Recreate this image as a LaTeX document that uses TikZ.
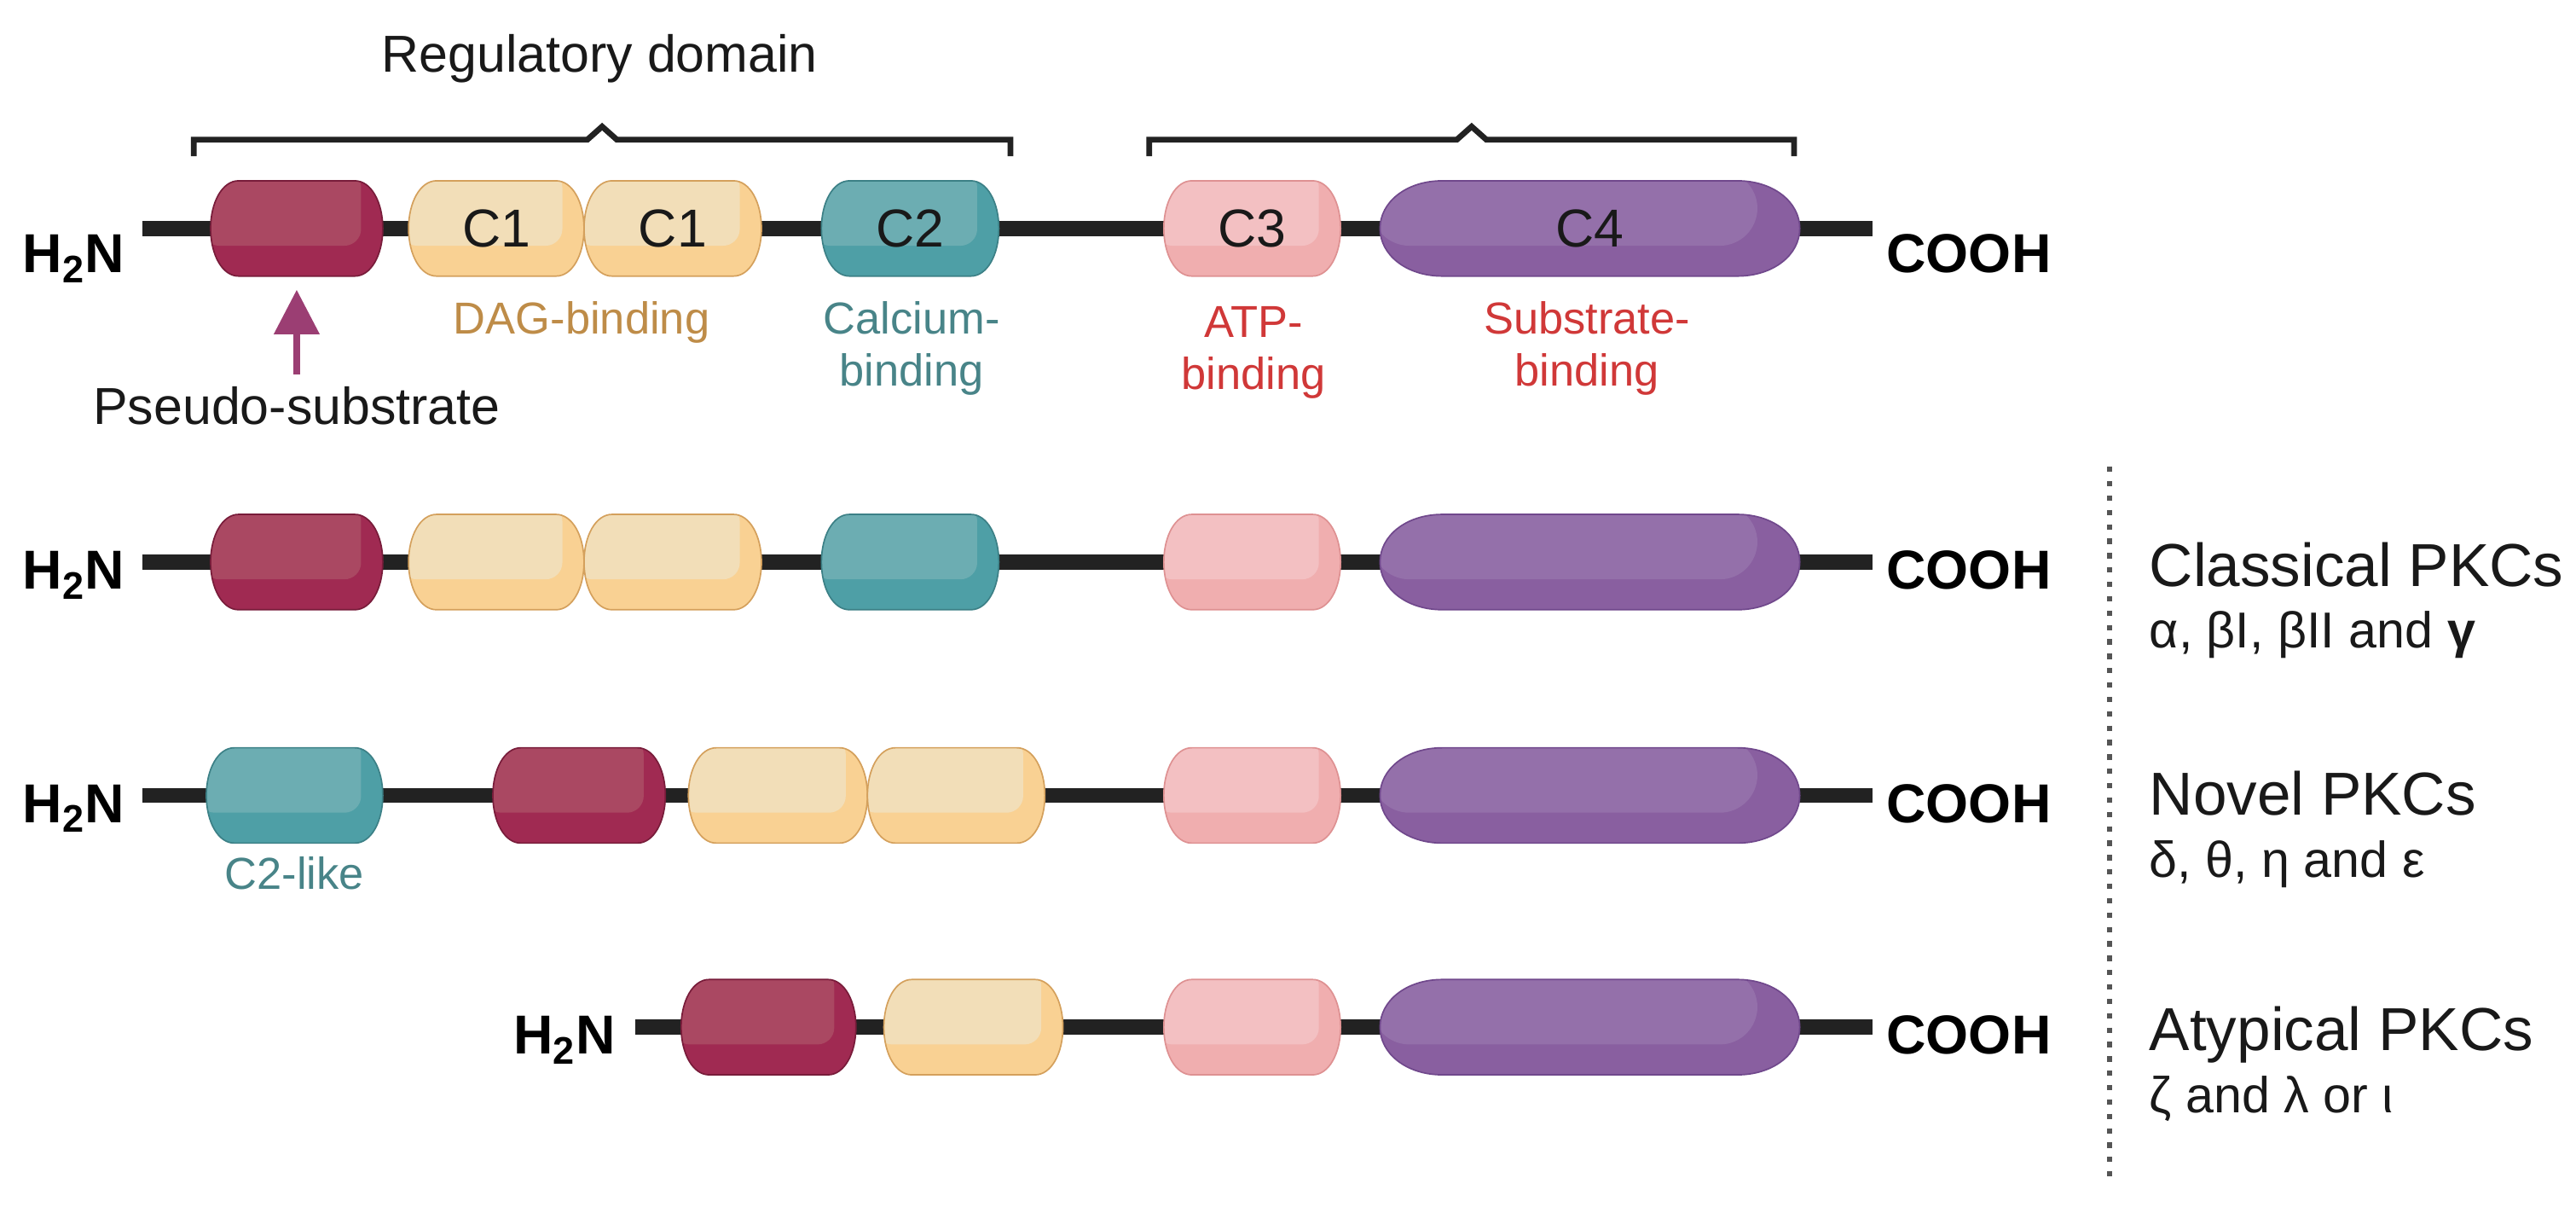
\documentclass[tikz,border=0pt]{standalone}
\usepackage{fontspec}
\setmainfont{Liberation Sans}
\usepackage{tikz}
\usetikzlibrary{arrows.meta,positioning,calc}
\definecolor{psdark}{RGB}{160,42,82}
\definecolor{pslight}{RGB}{170,72,98}
\definecolor{psline}{RGB}{120,28,58}
\definecolor{conedark}{RGB}{249,209,147}
\definecolor{conelight}{RGB}{242,222,184}
\definecolor{coneline}{RGB}{212,160,92}
\definecolor{ctwodark}{RGB}{78,159,166}
\definecolor{ctwolight}{RGB}{108,173,178}
\definecolor{ctwoline}{RGB}{60,128,134}
\definecolor{cthreedark}{RGB}{240,174,175}
\definecolor{cthreelight}{RGB}{243,192,194}
\definecolor{cthreeline}{RGB}{222,145,146}
\definecolor{cfourdark}{RGB}{137,95,160}
\definecolor{cfourlight}{RGB}{148,112,170}
\definecolor{cfourline}{RGB}{112,72,140}
\definecolor{dagtext}{RGB}{190,140,72}
\definecolor{catext}{RGB}{72,132,136}
\definecolor{bindtext}{RGB}{208,56,56}
\definecolor{arrowpink}{RGB}{155,62,115}
\definecolor{backbonegray}{RGB}{34,34,34}
\definecolor{txtblack}{RGB}{25,25,25}
\definecolor{dotgray}{RGB}{85,85,85}

% name, left, right, row, end radius, colour, label
\newcommand{\pkcdomain}[7]{%
  \pgfmathsetmacro{\dmid}{(#2+#3)/2}%
  \pgfmathsetmacro{\dwid}{(#3-#2)*0.02}%
  \pgfmathsetmacro{\dins}{0.6*#5+3}%
  \pgfmathsetmacro{\drc}{0.012*#5}%
  \path[domshape, draw=#6line, fill=#6dark,
    path picture={\fill[#6light, rounded corners=\drc cm]
      (#2-5,#4-35) rectangle (#3-\dins,#4+10.5);}]
    (#2+#5,#4-29) -- (#3-#5,#4-29)
    .. controls (#3-0.42*#5,#4-29) and (#3,#4-16) .. (#3,#4)
    .. controls (#3,#4+16) and (#3-0.42*#5,#4+29) .. (#3-#5,#4+29)
    -- (#2+#5,#4+29)
    .. controls (#2+0.42*#5,#4+29) and (#2,#4+16) .. (#2,#4)
    .. controls (#2,#4-16) and (#2+0.42*#5,#4-29) .. (#2+#5,#4-29) -- cycle;
  \node[domlbl, minimum width=\dwid cm] (#1) at (\dmid,#4) {#7};
}

\begin{document}
\begin{tikzpicture}[x=0.02cm, y=-0.02cm,
    domshape/.style={line width=0.5pt},
    domlbl/.style={inner sep=0pt, minimum height=1.16cm, text=txtblack, font=\fontsize{18.5}{20}\selectfont},
    backbone/.style={draw=backbonegray, line width=0.186cm},
    regbrace/.style={draw=backbonegray, line width=0.07cm, line join=miter},
    ends/.style={inner sep=0pt, text=black, font=\fontsize{19}{21}\selectfont\bfseries},
    plain/.style={inner sep=0pt, text=txtblack, font=\fontsize{18}{21}\selectfont},
    func/.style={inner sep=0pt, align=center, font=\fontsize{15.5}{18.2}\selectfont},
    family/.style={inner sep=0pt, text=txtblack, font=\fontsize{21}{24}\selectfont},
    isoform/.style={inner sep=0pt, text=txtblack, font=\fontsize{17.5}{20}\selectfont},
    psarrow/.style={draw=arrowpink, line width=0.075cm, -{Triangle[length=0.54cm, width=0.54cm]}, shorten <=0.14cm, shorten >=0.16cm},
    sepline/.style={draw=dotgray, line width=0.065cm, dash pattern=on 0.065cm off 0.11cm}
]
    \useasboundingbox (0,0) rectangle (1568,734);

    % backbones
    \coordinate (b1l) at (86.7,139);  \coordinate (b1r) at (1139.6,139);
    \coordinate (b2l) at (86.7,342);  \coordinate (b2r) at (1139.6,342);
    \coordinate (b3l) at (86.7,484);  \coordinate (b3r) at (1139.6,484);
    \coordinate (b4l) at (386.6,625); \coordinate (b4r) at (1139.6,625);
    \draw[backbone] (b1l) -- (b1r);
    \draw[backbone] (b2l) -- (b2r);
    \draw[backbone] (b3l) -- (b3r);
    \draw[backbone] (b4l) -- (b4r);

    % ends
    \node[ends, anchor=base east] (h1) at (76.3,166) {H\textsubscript{2}N};
    \node[ends, anchor=base west] (c1) at (1148,166) {COOH};
    \node[ends, anchor=base east] (h2) at (76.3,358.5) {H\textsubscript{2}N};
    \node[ends, anchor=base west] (c2) at (1148,358.5) {COOH};
    \node[ends, anchor=base east] (h3) at (76.3,500.5) {H\textsubscript{2}N};
    \node[ends, anchor=base west] (c3) at (1148,500.5) {COOH};
    \node[ends, anchor=base east] (h4) at (375,641.5) {H\textsubscript{2}N};
    \node[ends, anchor=base west] (c4) at (1148,641.5) {COOH};

    % general structure
    \pkcdomain{ps1}{128.2}{233}{139}{17}{ps}{}
    \pkcdomain{cone1a}{248.7}{355.5}{139}{17}{cone}{C1}
    \pkcdomain{cone1b}{355.5}{463.5}{139}{17}{cone}{C1}
    \pkcdomain{ctwo1}{500}{608}{139}{17}{ctwo}{C2}
    \pkcdomain{cthree1}{708.4}{816}{139}{17}{cthree}{C3}
    \pkcdomain{cfour1}{840}{1095.5}{139}{38}{cfour}{C4}

    % classical
    \pkcdomain{ps2}{128.2}{233}{342}{17}{ps}{}
    \pkcdomain{cone2a}{248.7}{355.5}{342}{17}{cone}{}
    \pkcdomain{cone2b}{355.5}{463.5}{342}{17}{cone}{}
    \pkcdomain{ctwo2}{500}{608}{342}{17}{ctwo}{}
    \pkcdomain{cthree2}{708.4}{816}{342}{17}{cthree}{}
    \pkcdomain{cfour2}{840}{1095.5}{342}{38}{cfour}{}

    % novel
    \pkcdomain{ctwo3}{125.6}{233}{484}{17}{ctwo}{}
    \pkcdomain{ps3}{300}{405}{484}{17}{ps}{}
    \pkcdomain{cone3a}{419}{528}{484}{17}{cone}{}
    \pkcdomain{cone3b}{528}{636}{484}{17}{cone}{}
    \pkcdomain{cthree3}{708.4}{816}{484}{17}{cthree}{}
    \pkcdomain{cfour3}{840}{1095.5}{484}{38}{cfour}{}

    % atypical
    \pkcdomain{ps4}{414.6}{521}{625}{17}{ps}{}
    \pkcdomain{cone4}{538}{647}{625}{17}{cone}{}
    \pkcdomain{cthree4}{708.4}{816}{625}{17}{cthree}{}
    \pkcdomain{cfour4}{840}{1095.5}{625}{38}{cfour}{}

    % braces
    \coordinate (regl) at (118,95);   \coordinate (regr) at (615,95);
    \coordinate (catl) at (699.5,95); \coordinate (catr) at (1092,95);
    \draw[regbrace] (regl) -- ++(0,-10) -- ($(regl)!0.5!(regr)+(-9,-10)$) -- ++(9,-8) -- ++(9,8) -- ($(regr)+(0,-10)$) -- (regr);
    \draw[regbrace] (catl) -- ++(0,-10) -- ($(catl)!0.5!(catr)+(-9,-10)$) -- ++(9,-8) -- ++(9,8) -- ($(catr)+(0,-10)$) -- (catr);
    \node[plain, anchor=base] (regdom) at (365,44) {Regulatory domain};

    % labels
    \node[plain, anchor=base] (psl) at (180.6,258) {Pseudo-substrate};
    \draw[psarrow] (psl) -- (ps1);
    \node[func, text=dagtext, anchor=base] (dag) at (354,203) {DAG-binding};
    \node[func, text=catext, anchor=base] (cal) at (555,235) {Calcium-\\binding};
    \node[func, text=bindtext, anchor=base] (atp) at (763,237) {ATP-\\binding};
    \node[func, text=bindtext, anchor=base] (sub) at (966,235) {Substrate-\\binding};
    \node[func, text=catext, anchor=base] (c2like) at (179.3,541) {C2-like};

    % families
    \coordinate (septop) at (1284,284); \coordinate (sepbot) at (1284,718);
    \draw[sepline] (septop) -- (sepbot);
    \node[family, anchor=base west] (cls) at (1308,357) {Classical PKCs};
    \node[isoform, anchor=base west] (clsiso) at (1308,394) {α, βI, βII and \textbf{γ}};
    \node[family, anchor=base west] (nov) at (1308,496) {Novel PKCs};
    \node[isoform, anchor=base west] (noviso) at (1308,534) {δ, θ, η and ε};
    \node[family, anchor=base west] (aty) at (1308,639) {Atypical PKCs};
    \node[isoform, anchor=base west] (atyiso) at (1308,677) {ζ and λ or ι};
\end{tikzpicture}
\end{document}
